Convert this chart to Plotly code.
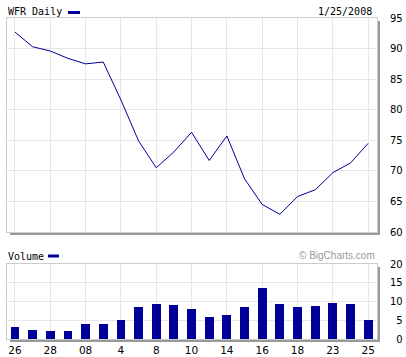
import plotly.graph_objects as go

# ---- data ----
dates = ["Dec 26", "Dec 27", "Dec 28", "Dec 31", "Jan 02", "Jan 03", "Jan 04",
         "Jan 07", "Jan 08", "Jan 09", "Jan 10", "Jan 11", "Jan 14", "Jan 15",
         "Jan 16", "Jan 17", "Jan 18", "Jan 22", "Jan 23", "Jan 24", "Jan 25"]
price = [92.7, 90.3, 89.6, 88.4, 87.5, 87.8, 81.6, 74.9, 70.5, 73.1, 76.3,
         71.7, 75.7, 68.7, 64.5, 62.9, 65.8, 66.9, 69.7, 71.3, 74.5]
volume = [3.2, 2.5, 2.25, 2.25, 4.1, 4.1, 5.2, 8.5, 9.3, 9.0, 7.9,
          5.8, 6.3, 8.5, 13.6, 9.3, 8.5, 8.7, 9.5, 9.3, 5.0]
x_tick_labels = ["26", "28", "08", "4", "8", "10", "14", "16", "18", "23", "25"]
price_ticks = [60, 65, 70, 75, 80, 85, 90, 95]
vol_ticks = [0, 5, 10, 15, 20]
vol_tick_labels = ["\u20070", "\u20075", "10", "15", "20"]

idx = list(range(len(dates)))
tick_idx = idx[::2]

BLUE = "#000099"
GRID = "#e6e6e6"
BORDER = "#cccccc"
SHADOW = "#999999"
FONT = "DejaVu Sans"
MONO = "DejaVu Sans Mono"

W, H = 406, 357
L, R, T, B = 7, 29, 18, 18
PW, PH = W - L - R, H - T - B


def px(xp):
    return (xp - L) / PW


def py(yp):
    return (H - B - yp) / PH


fig = go.Figure()
fig.add_trace(go.Scatter(x=idx, y=price, mode="lines",
                         line=dict(color=BLUE, width=1),
                         xaxis="x", yaxis="y", hoverinfo="skip"))
fig.add_trace(go.Bar(x=idx, y=volume, width=0.5, marker=dict(color=BLUE, line=dict(width=0)),
                     xaxis="x2", yaxis="y2", hoverinfo="skip"))

xcommon = dict(range=[-0.45, 20.5], tickvals=tick_idx, showgrid=True, gridcolor=GRID,
               gridwidth=1, zeroline=False, showline=True, linecolor=BORDER,
               linewidth=1, mirror=True, ticks="", fixedrange=True, automargin=False)
top_bottom_px = 232
fig.update_layout(
    width=W, height=H,
    margin=dict(l=L, r=R, t=T, b=B, pad=0, autoexpand=False),
    paper_bgcolor="white", plot_bgcolor="white",
    showlegend=False,
    font=dict(family=FONT, size=10, color="black"),
    xaxis=dict(**xcommon, anchor="y", showticklabels=False),
    xaxis2=dict(**xcommon, anchor="y2", ticktext=x_tick_labels, showticklabels=True,
                ticklabelstandoff=1, tickfont=dict(family=FONT, size=10.5)),
    yaxis=dict(domain=[py(top_bottom_px), 1], range=[60, 95], side="right",
               tickvals=price_ticks, showgrid=True, gridcolor=GRID, zeroline=False,
               showline=True, linecolor=BORDER, mirror=True, ticks="", automargin=False,
               ticklabelstandoff=10, tickfont=dict(family=FONT, size=10)),
    yaxis2=dict(domain=[0, py(264)], range=[0, 20], side="right", anchor="x2",
                tickvals=vol_ticks, ticktext=vol_tick_labels, showgrid=True,
                gridcolor=GRID, zeroline=False, showline=True, linecolor=BORDER,
                mirror=True, ticks="", ticklabelstandoff=10, automargin=False,
                tickfont=dict(family=FONT, size=10)),
    bargap=0,
)

shapes = []
# shadows
for (ytop, ybot) in [(T, top_bottom_px), (264, H - B)]:
    shapes.append(dict(type="rect", xref="paper", yref="paper",
                       x0=px(377), x1=px(380), y0=py(ytop + 3), y1=py(ybot + 3),
                       fillcolor=SHADOW, line=dict(width=0), layer="below"))
    shapes.append(dict(type="rect", xref="paper", yref="paper",
                       x0=px(L + 3), x1=px(380), y0=py(ybot + 1), y1=py(ybot + 3),
                       fillcolor=SHADOW, line=dict(width=0), layer="below"))
# legend swatches
shapes.append(dict(type="rect", xref="paper", yref="paper",
                   x0=px(68), x1=px(80), y0=py(11), y1=py(14),
                   fillcolor=BLUE, line=dict(width=0)))
shapes.append(dict(type="rect", xref="paper", yref="paper",
                   x0=px(48), x1=px(59), y0=py(254.5), y1=py(257.5),
                   fillcolor=BLUE, line=dict(width=0)))
fig.update_layout(shapes=shapes)

ann = [
    dict(text="WFR Daily", x=px(6), y=py(11.5), xanchor="left", yanchor="middle",
         font=dict(family=MONO, size=10, color="black")),
    dict(text="1/25/2008", x=px(374), y=py(11.5), xanchor="right", yanchor="middle",
         font=dict(family=MONO, size=10, color="black")),
    dict(text="Volume", x=px(6), y=py(256), xanchor="left", yanchor="middle",
         font=dict(family=MONO, size=10, color="black")),
    dict(text="\u00a9 BigCharts.com", x=px(377), y=py(255), xanchor="right",
         yanchor="middle", font=dict(family="Liberation Sans", size=10, color="#999999")),
]
for a in ann:
    a.update(xref="paper", yref="paper", showarrow=False)
fig.update_layout(annotations=ann)

fig.write_html("out.html", config={"displayModeBar": False})
